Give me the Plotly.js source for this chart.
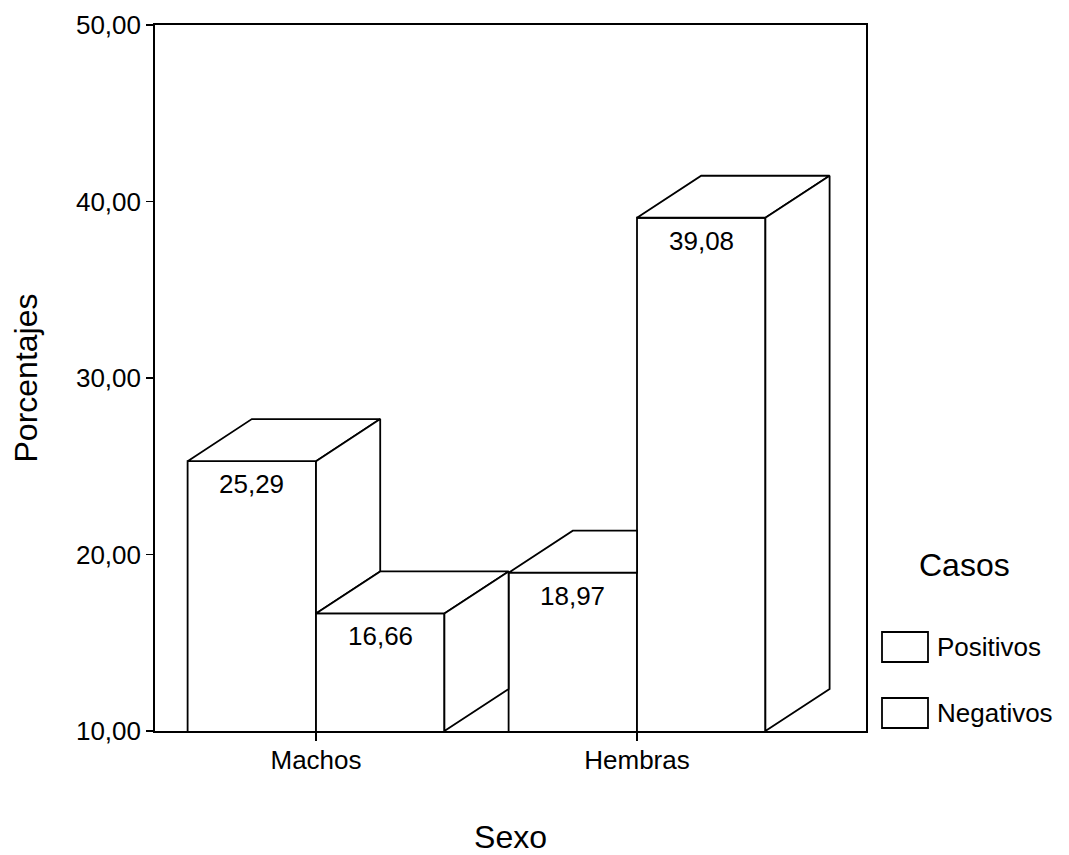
<!DOCTYPE html>
<html>
<head>
<meta charset="utf-8">
<script src="https://cdn.plot.ly/plotly-3.0.1.min.js"></script>
<style>
  html, body { margin: 0; padding: 0; background: #fff; }
  #chart { width: 1069px; height: 855px; }
</style>
</head>
<body>
<div id="chart"></div>
<script>
// ---- data ----
const categories = ['Machos', 'Hembras'];
const seriesNames = ['Positivos', 'Negativos'];
const positivos = [25.29, 18.97];
const negativos = [16.66, 39.08];
const yTicks = [10, 20, 30, 40, 50];
const xTitle = 'Sexo';
const yTitle = 'Porcentajes';
const legendTitle = 'Casos';

const seriesValues = [positivos, negativos];

// ---- layout constants ----
const W = 1069, H = 855;
const M = { l: 155, r: 203, t: 25, b: 124 };
const PW = W - M.l - M.r, PH = H - M.t - M.b;
const BAR_GAP = 0.2;          // gap between category groups
const DEPTH_X = 0.2;          // 3D depth offset, x-axis units
const DEPTH_Y = 2.38;         // 3D depth offset, y-axis units
const Y_FLOOR = yTicks[0];
const X_RANGE = [-0.5016, 1.7134];
const FONT = 'Liberation Sans, Arial, sans-serif';
const EDGE = { color: '#000', width: 1.8 };
const LABEL_SIZE = 26;

const xIdx = categories.map((c, i) => i);
const barW = (1 - BAR_GAP) / seriesNames.length;
const fmt = v => v.toFixed(2).replace('.', ',');
const paperX = px => (px - M.l) / PW;
const paperY = py => (H - M.b - py) / PH;

// ---- front faces: ordinary grouped bars ----
const traces = seriesNames.map((name, k) => ({
  type: 'bar',
  name: name,
  x: xIdx,
  y: seriesValues[k],
  marker: { color: '#ffffff', line: EDGE },
  showlegend: false,
  hovertemplate: name + ': %{y:.2f}<extra></extra>'
}));

// ---- top and side faces giving the bars depth ----
const boxes = [];
categories.forEach((c, i) => {
  seriesNames.forEach((n, k) => {
    const xl = i - (1 - BAR_GAP) / 2 + k * barW;
    boxes.push({
      xl: xl,
      xr: xl + barW,
      v: seriesValues[k][i],
      next: k < seriesNames.length - 1 ? seriesValues[k + 1][i] : null
    });
  });
});

function face(pts) {
  const xs = pts.map(p => p[0]).concat([pts[0][0]]);
  const ys = pts.map(p => p[1]).concat([pts[0][1]]);
  return {
    type: 'scatter', mode: 'lines', x: xs, y: ys,
    fill: 'toself', fillcolor: '#ffffff', line: EDGE,
    hoverinfo: 'skip', showlegend: false
  };
}

const annotations = [];
boxes.forEach(b => {
  const d = DEPTH_X, h = DEPTH_Y;
  // top face (cut where a taller neighbour stands in front of it)
  if (b.next !== null && b.next >= b.v + h) {
    traces.push(face([[b.xl, b.v], [b.xr, b.v], [b.xr, b.v + h], [b.xl + d, b.v + h]]));
  } else {
    traces.push(face([[b.xl, b.v], [b.xr, b.v], [b.xr + d, b.v + h], [b.xl + d, b.v + h]]));
  }
  // right side face (only the part not hidden by the neighbour)
  if (b.next === null) {
    traces.push(face([[b.xr, b.v], [b.xr + d, b.v + h], [b.xr + d, Y_FLOOR + h], [b.xr, Y_FLOOR]]));
  } else if (b.next < b.v) {
    traces.push(face([[b.xr, b.v], [b.xr + d, b.v + h], [b.xr + d, b.next + h], [b.xr, b.next]]));
  }
  // value label on the front face
  annotations.push({
    x: (b.xl + b.xr) / 2, y: b.v, xref: 'x', yref: 'y',
    text: fmt(b.v), showarrow: false,
    xanchor: 'center', yanchor: 'middle', yshift: -23,
    font: { family: FONT, size: LABEL_SIZE, color: '#000' }
  });
});

// ---- legend ----
const shapes = [];
const LEG = { boxL: 882, boxR: 928, textL: 935, titleX: 964, titleY: 565, rows: [647, 713], boxH: 30 };
annotations.push({
  x: paperX(LEG.titleX), y: paperY(LEG.titleY), xref: 'paper', yref: 'paper',
  text: legendTitle, showarrow: false, xanchor: 'center', yanchor: 'middle',
  font: { family: FONT, size: 32, color: '#000' }
});
seriesNames.forEach((name, k) => {
  const cy = LEG.rows[k];
  shapes.push({
    type: 'rect', xref: 'paper', yref: 'paper',
    x0: paperX(LEG.boxL), x1: paperX(LEG.boxR),
    y0: paperY(cy - LEG.boxH / 2), y1: paperY(cy + LEG.boxH / 2),
    fillcolor: '#ffffff', line: { color: '#000', width: 1.8 }
  });
  annotations.push({
    x: paperX(LEG.textL), y: paperY(cy), xref: 'paper', yref: 'paper',
    text: name, showarrow: false, xanchor: 'left', yanchor: 'middle',
    font: { family: FONT, size: LABEL_SIZE, color: '#000' }
  });
});

const layout = {
  width: W, height: H,
  margin: M,
  paper_bgcolor: '#ffffff', plot_bgcolor: '#ffffff',
  separators: ',.',
  font: { family: FONT, size: LABEL_SIZE, color: '#000' },
  barmode: 'group',
  bargap: BAR_GAP,
  bargroupgap: 0,
  showlegend: false,
  xaxis: {
    type: 'linear',
    range: X_RANGE,
    tickvals: xIdx,
    ticktext: categories,
    ticks: 'outside', ticklen: 8, tickwidth: 1.8, tickcolor: '#000',
    ticklabelstandoff: -3,
    showline: true, linecolor: '#000', linewidth: 1.8, mirror: true,
    showgrid: false, zeroline: false,
    tickfont: { family: FONT, size: LABEL_SIZE, color: '#000' },
    title: { text: xTitle, font: { family: FONT, size: 32, color: '#000' }, standoff: 56 }
  },
  yaxis: {
    range: [yTicks[0], yTicks[yTicks.length - 1]],
    tickvals: yTicks,
    tickformat: '.2f',
    ticks: 'outside', ticklen: 7, tickwidth: 1.8, tickcolor: '#000',
    ticklabelstandoff: 0,
    showline: true, linecolor: '#000', linewidth: 1.8, mirror: true,
    showgrid: false, zeroline: false,
    tickfont: { family: FONT, size: LABEL_SIZE, color: '#000' },
    title: { text: yTitle, font: { family: FONT, size: 32, color: '#000' }, standoff: 29 }
  },
  shapes: shapes,
  annotations: annotations
};

Plotly.newPlot('chart', traces, layout, { displayModeBar: false, staticPlot: true });
</script>
</body>
</html>
